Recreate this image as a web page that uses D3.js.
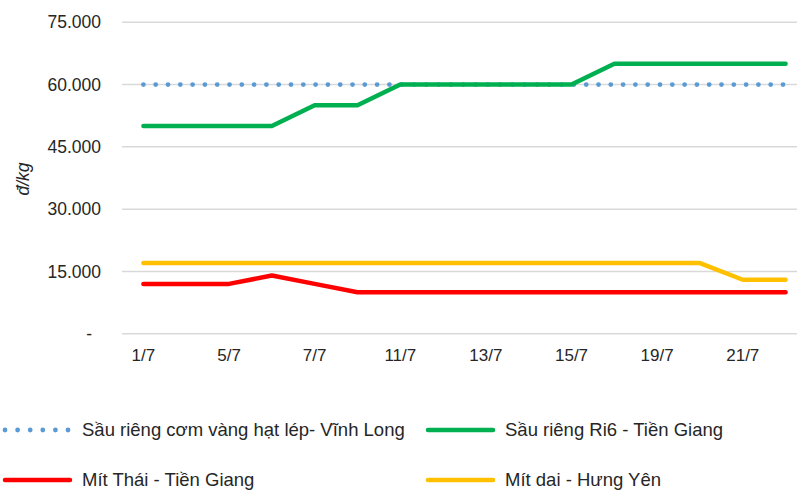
<!DOCTYPE html>
<html>
<head>
<meta charset="utf-8">
<script src="https://cdn.jsdelivr.net/npm/d3@7"></script>
<style>
  html, body { margin: 0; padding: 0; background: #fff; }
  svg { display: block; font-family: "Liberation Sans", Arial, sans-serif; }
</style>
</head>
<body>
<svg id="chart" width="797" height="490"></svg>
<script>
// Trading dates (every other one is labelled on the axis)
const dates = ["1/7", "3/7", "5/7", "6/7", "7/7", "9/7", "11/7", "12/7",
               "13/7", "14/7", "15/7", "17/7", "19/7", "20/7", "21/7", "22/7"];

// Prices, đ/kg
const sauRiengComVang = [60000, 60000, 60000, 60000, 60000, 60000, 60000, 60000,
                         60000, 60000, 60000, 60000, 60000, 60000, 60000, 60000];
const sauRiengRi6     = [50000, 50000, 50000, 50000, 55000, 55000, 60000, 60000,
                         60000, 60000, 60000, 65000, 65000, 65000, 65000, 65000];
const mitThai         = [12000, 12000, 12000, 14000, 12000, 10000, 10000, 10000,
                         10000, 10000, 10000, 10000, 10000, 10000, 10000, 10000];
const mitDai          = [17000, 17000, 17000, 17000, 17000, 17000, 17000, 17000,
                         17000, 17000, 17000, 17000, 17000, 17000, 13000, 13000];

const yTicks = [0, 15000, 30000, 45000, 60000, 75000];
const seriesNames = ["Sầu riêng cơm vàng hạt lép- Vĩnh Long", "Sầu riêng Ri6 - Tiền Giang",
                     "Mít Thái - Tiền Giang", "Mít dai - Hưng Yên"];

const series = [
  { name: seriesNames[0], values: sauRiengComVang, color: "#5b9bd5", dotted: true },
  { name: seriesNames[1], values: sauRiengRi6, color: "#00b050" },
  { name: seriesNames[2], values: mitThai, color: "#ff0000" },
  { name: seriesNames[3], values: mitDai, color: "#ffc000" }
];

const svg = d3.select("#chart");
const plotLeft = 122, plotRight = 807, plotTop = 22.3, plotBottom = 333.7;

const x = d3.scaleBand().domain(dates).range([plotLeft, plotRight]);
const y = d3.scaleLinear().domain([0, 75000]).range([plotBottom, plotTop]);
const cx = d => x(d) + x.bandwidth() / 2;

const fmt = v => v === 0 ? "-" : d3.format(",")(v).replace(/,/g, ".");

// Horizontal gridlines
svg.append("g")
  .selectAll("line")
  .data(yTicks)
  .join("line")
  .attr("x1", plotLeft).attr("x2", plotRight)
  .attr("y1", d => y(d)).attr("y2", d => y(d))
  .attr("stroke", "#d9d9d9").attr("stroke-width", 1.5);

// Y axis labels
const yAxis = svg.append("g")
  .attr("transform", `translate(101,0)`)
  .call(d3.axisLeft(y).tickValues(yTicks).tickFormat(fmt).tickSize(0).tickPadding(0));
yAxis.select(".domain").remove();
yAxis.selectAll("text")
  .attr("font-size", 17.5).attr("fill", "#262626")
  .attr("font-family", "Liberation Sans, Arial, sans-serif")
  .attr("dx", d => d === 0 ? -9 : 0);

// X axis labels
const xAxis = svg.append("g")
  .attr("transform", `translate(0,${plotBottom})`)
  .call(d3.axisBottom(x).tickValues(dates.filter((d, i) => i % 2 === 0)).tickSize(0).tickPadding(15));
xAxis.select(".domain").remove();
xAxis.selectAll("text")
  .attr("font-size", 17).attr("fill", "#262626")
  .attr("font-family", "Liberation Sans, Arial, sans-serif");

// Y axis title
svg.append("text")
  .attr("transform", "translate(29,179) rotate(-90)")
  .attr("text-anchor", "middle")
  .attr("font-size", 17.5).attr("font-style", "italic").attr("fill", "#262626")
  .text("đ/kg");

// Series lines
const line = d3.line().x((d, i) => cx(dates[i])).y(d => y(d));
series.forEach(s => {
  const p = svg.append("path")
    .datum(s.values)
    .attr("d", line)
    .attr("fill", "none")
    .attr("stroke", s.color)
    .attr("stroke-linecap", "round")
    .attr("stroke-linejoin", "round");
  if (s.dotted) {
    p.attr("stroke-width", 4.8).attr("stroke-dasharray", "0 12.3");
  } else {
    p.attr("stroke-width", 4.5);
  }
});

// Legend
const legendPos = [
  { x: 5, y: 430 }, { x: 428, y: 430 },
  { x: 5, y: 480 }, { x: 428, y: 480 }
];
series.forEach((s, i) => {
  const g = svg.append("g").attr("transform", `translate(${legendPos[i].x},${legendPos[i].y})`);
  const l = g.append("line")
    .attr("x1", 0).attr("x2", 65).attr("y1", 0).attr("y2", 0)
    .attr("stroke", s.color).attr("stroke-linecap", "round");
  if (s.dotted) l.attr("stroke-width", 4.8).attr("stroke-dasharray", "0 12.6");
  else l.attr("stroke-width", 4.5);
  g.append("text")
    .attr("x", 77).attr("y", 0).attr("dy", "0.35em")
    .attr("font-size", 18.5).attr("fill", "#262626")
    .text(s.name);
});
</script>
</body>
</html>
